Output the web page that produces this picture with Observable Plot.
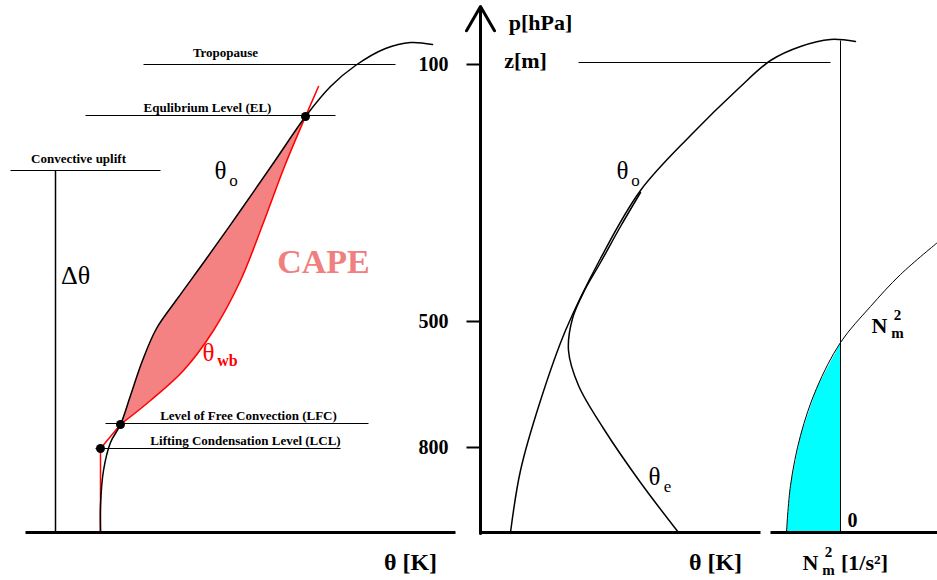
<!DOCTYPE html>
<html><head><meta charset="utf-8">
<script src="https://cdn.jsdelivr.net/npm/d3@7"></script>
<script src="https://cdn.jsdelivr.net/npm/@observablehq/plot@0.6"></script>
<style>body{margin:0;background:#fff}</style>
</head><body><div id="chart"></div>
<script>
// schematic drawn in a 937x580 coordinate frame (y grows downward)
const thetaO = [[100,532],[100,505],[103,470],[110,442],[120,424],[130,395],[142,360],[156,328],[177,298],[206,258],[240,210],[274,161],[305,116],[330,86],[355,65],[385,48],[410,42],[432,44]]
const thetaWb = [[120,424],[150,400],[183,370],[213,330],[240,280],[263,222],[284,166],[305,116],[318,86]]
const redLow = [[100,532],[100,448],[120,424]]
const capeUpper = thetaO.slice(4, 13)
const thetaO2 = [[510,532],[520,470],[540,400],[565,330],[600,258],[640,190],[690,135],[738,88],[770,60],[800,46],[830,39],[855,41]]
const thetaE = [[678,532],[640,482],[603,428],[578,385],[568,350],[572,318],[584,290],[600,262],[620,226],[640,192]]
const n2 = [[786,532],[790,485],[800,435],[816,388],[840,342],[870,306],[900,274],[937,242]]
const n2Fill = n2.slice(0, 5)
const hlines = [
  {x1:143,x2:395,y1:64,y2:64,w:1},{x1:85,x2:335,y1:115,y2:115,w:1},{x1:105,x2:368,y1:423,y2:423,w:1},{x1:95,x2:340,y1:448,y2:448,w:1},
  {x1:10,x2:160,y1:170,y2:170,w:1},{x1:578,x2:830,y1:62,y2:62,w:1},
  {x1:55,x2:55,y1:170,y2:532,w:1.5},{x1:840,x2:840,y1:40,y2:532,w:1},
  {x1:25,x2:455,y1:532,y2:532,w:3},{x1:480,x2:760,y1:532,y2:532,w:3},{x1:770,x2:937,y1:532,y2:532,w:3}]
const axisArrow = [{x1:480,x2:480,y1:533,y2:6}]
const dots = [[305,116],[120,424],[100,448]]
const pTicks = [{p:"100",y:64,x1:466,x2:480},{p:"500",y:321,x1:466,x2:480},{p:"800",y:447,x1:466,x2:480}]
const labels = [
  {x:225,y:52,t:"Tropopause",s:13},{x:207,y:107,t:"Equlibrium Level (EL)",s:13},
  {x:78,y:158,t:"Convective uplift",s:13},{x:248,y:415,t:"Level of Free Convection (LFC)",s:13},
  {x:245,y:440,t:"Lifting Condensation Level (LCL)",s:13}]
const plain = [
  {x:220,y:170,t:"θ",s:25,c:"black"},{x:233,y:180,t:"o",s:17,c:"black"},
  {x:75,y:275,t:"Δθ",s:26,c:"black"},
  {x:208,y:352,t:"θ",s:25,c:"red"},
  {x:622,y:170,t:"θ",s:25,c:"black"},{x:635,y:180,t:"o",s:17,c:"black"},
  {x:654,y:476,t:"θ",s:25,c:"black"},{x:667,y:486,t:"e",s:17,c:"black"}]
const bold = [
  {x:323,y:262,t:"CAPE",s:34,c:"#f08080"},
  {x:227,y:360,t:"wb",s:16,c:"red"},
  {x:410,y:562,t:"θ [K]",s:24,c:"black"},
  {x:715,y:562,t:"θ [K]",s:24,c:"black"},
  {x:540,y:22,t:"p[hPa]",s:22,c:"black"},{x:525,y:60,t:"z[m]",s:22,c:"black"},
  {x:852,y:520,t:"0",s:20,c:"black"},
  {x:879,y:325,t:"N",s:22,c:"black"},{x:897,y:315,t:"2",s:15,c:"black"},{x:897,y:333,t:"m",s:15,c:"black"},
  {x:810,y:562,t:"N",s:22,c:"black"},{x:828,y:552,t:"2",s:15,c:"black"},{x:828,y:570,t:"m",s:15,c:"black"},
  {x:864,y:562,t:"[1/s²]",s:22,c:"black"}]

const capePoly = [...capeUpper, ...thetaWb.slice(0, 8).reverse()]
const cyanPoly = [...n2Fill, [840,532]]
const F = "Liberation Serif, Times New Roman, serif"
const px = d => d[0], py = d => d[1]

const chart = Plot.plot({
  width: 937, height: 580, margin: 0,
  x: {domain: [0, 937], range: [0, 937], axis: null},
  y: {domain: [0, 580], range: [0, 580], axis: null},
  style: {fontFamily: F},
  marks: [
    Plot.line(capePoly, {x: px, y: py, fill: "#f48282", stroke: "none", curve: "catmull-rom"}),
    Plot.line(cyanPoly, {x: px, y: py, fill: "cyan", stroke: "none", curve: "linear"}),
    Plot.line(thetaWb, {x: px, y: py, stroke: "red", strokeWidth: 1.5, curve: "catmull-rom"}),
    Plot.line(redLow, {x: px, y: py, stroke: "red", strokeWidth: 1.5}),
    Plot.line(thetaO, {x: px, y: py, stroke: "black", strokeWidth: 1.5, curve: "catmull-rom"}),
    Plot.line(thetaO2, {x: px, y: py, stroke: "black", strokeWidth: 1.5, curve: "catmull-rom"}),
    Plot.line(thetaE, {x: px, y: py, stroke: "black", strokeWidth: 1.5, curve: "catmull-rom"}),
    Plot.line(n2, {x: px, y: py, stroke: "black", strokeWidth: 1, curve: "catmull-rom"}),
    Plot.link(hlines, {x1: "x1", x2: "x2", y1: "y1", y2: "y2", stroke: "black", strokeWidth: "w"}),
    Plot.arrow(axisArrow, {x1: "x1", x2: "x2", y1: "y1", y2: "y2", stroke: "black", strokeWidth: 3, headLength: 14}),
    Plot.link(pTicks, {x1: "x1", x2: "x2", y1: "y", y2: "y", stroke: "black", strokeWidth: 2}),
    Plot.text(pTicks, {x: d => 433, y: "y", text: "p", fontSize: 20, fontWeight: "bold", fill: "black"}),
    Plot.dot(dots, {x: px, y: py, r: 4.5, fill: "black"}),
    Plot.text(labels, {x: "x", y: "y", text: "t", fontSize: "s", fontWeight: "bold", fill: "black"}),
    Plot.text(plain, {x: "x", y: "y", text: "t", fontSize: d => d.s, fill: "c"}),
    Plot.text(bold, {x: "x", y: "y", text: "t", fontSize: d => d.s, fontWeight: "bold", fill: "c"})
  ]
})
document.getElementById("chart").append(chart)
</script></body></html>
